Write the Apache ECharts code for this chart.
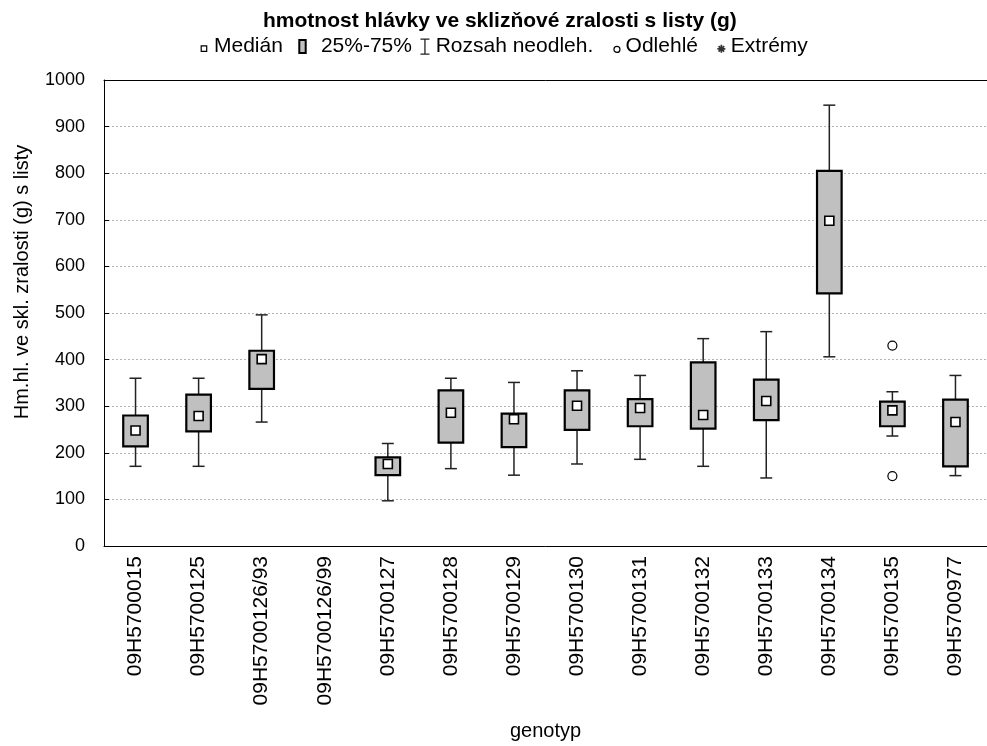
<!DOCTYPE html>
<html>
<head>
<meta charset="utf-8">
<script src="https://cdn.jsdelivr.net/npm/echarts@6/dist/echarts.min.js"></script>
<style>
  html, body { margin: 0; padding: 0; background: #fff; }
  #chart { width: 987px; height: 746px; }
</style>
</head>
<body>
<div id="chart"></div>
<script>
// Genotypes on the category axis
const genotypes = ['09H5700015', '09H5700125', '09H5700126/93', '09H5700126/99', '09H5700127',
  '09H5700128', '09H5700129', '09H5700130', '09H5700131', '09H5700132', '09H5700133',
  '09H5700134', '09H5700135', '09H5700977'];

// Head weight at harvest maturity with leaves (g); null = genotype without data
const rangeLow  = [171, 171, 266, null,  97, 166, 152, 176, 186, 171, 146, 406, 236, 151];
const q1        = [214, 246, 337, null, 152, 222, 212, 249, 257, 252, 270, 542, 257, 171];
const median    = [248, 279, 401, null, 176, 286, 272, 301, 296, 281, 311, 698, 291, 266];
const q3        = [280, 325, 419, null, 190, 334, 284, 334, 315, 394, 357, 805, 310, 314];
const rangeHigh = [360, 360, 496, null, 220, 360, 351, 376, 366, 445, 460, 946, 331, 366];

// Outliers: [genotype, value]
const outlierGenotype = ['09H5700135', '09H5700135'];
const outlierValue    = [430, 150];

const yTicks = { min: 0, max: 1000, step: 100 };

const FONT = 'Liberation Sans, Arial, Helvetica, sans-serif';

const boxData = [];
genotypes.forEach((g, i) => {
  if (median[i] == null) return;
  boxData.push([i, rangeLow[i], q1[i], median[i], q3[i], rangeHigh[i]]);
});
const outlierData = outlierGenotype.map((g, i) => [g, outlierValue[i]]);

// Legend icons: zero-length corner segments pin each path to its own w x h frame,
// so the shape keeps its size and place inside the legend item
function frame(w, h) {
  return 'M0,0L0,0M' + w + ',' + h + 'L' + w + ',' + h;
}
const ICON_H = 24;
const iconMedian  = 'path://' + frame(8.4, ICON_H) + 'M0.6,11.8L6.1,11.8L6.1,17.3L0.6,17.3Z';
const iconBox     = 'path://' + frame(17.6, ICON_H) + 'M1,5.5L7.4,5.5L7.4,18.5L1,18.5Z';
const iconRange   = 'path://' + frame(10.7, ICON_H) + 'M0.5,5L9.5,5M5,5L5,20M0.5,20L9.5,20';
const iconOutlier = 'path://' + frame(7.3, ICON_H) + 'M6.65,15.3A3,3,0,1,1,0.65,15.3A3,3,0,1,1,6.65,15.3Z';
const iconExtreme = 'path://' + frame(9, ICON_H) + 'M4.5,10.5L4.5,18.5M0.5,14.5L8.5,14.5M1.7,11.7L7.3,17.3M1.7,17.3L7.3,11.7';
const symExtreme  = 'path://M4.5,0.5L4.5,8.5M0.5,4.5L8.5,4.5M1.7,1.7L7.3,7.3M1.7,7.3L7.3,1.7';

function whiskers(params, api) {
  const i = api.value(0);
  const lo = api.coord([i, api.value(1)]);
  const a = api.coord([i, api.value(2)]);
  const b = api.coord([i, api.value(4)]);
  const hi = api.coord([i, api.value(5)]);
  const x = a[0];
  const cap = api.size([1, 0])[0] * 0.19;
  const st = { stroke: '#222', lineWidth: 1.5 };
  return {
    type: 'group',
    children: [
      { type: 'line', shape: { x1: x, y1: hi[1], x2: x, y2: b[1] }, style: st },
      { type: 'line', shape: { x1: x, y1: lo[1], x2: x, y2: a[1] }, style: st },
      { type: 'line', shape: { x1: x - cap / 2, y1: hi[1], x2: x + cap / 2, y2: hi[1] }, style: st },
      { type: 'line', shape: { x1: x - cap / 2, y1: lo[1], x2: x + cap / 2, y2: lo[1] }, style: st }
    ]
  };
}

function boxes(params, api) {
  const i = api.value(0);
  const a = api.coord([i, api.value(2)]);
  const b = api.coord([i, api.value(4)]);
  const w = api.size([1, 0])[0] * 0.39;
  return {
    type: 'rect',
    shape: { x: a[0] - w / 2, y: b[1], width: w, height: a[1] - b[1] },
    style: { fill: '#c0c0c0', stroke: '#000', lineWidth: 2.2 }
  };
}

function medians(params, api) {
  const i = api.value(0);
  const m = api.coord([i, api.value(3)]);
  const s = 9;
  return {
    type: 'rect',
    shape: { x: m[0] - s / 2, y: m[1] - s / 2, width: s, height: s },
    style: { fill: '#fff', stroke: '#000', lineWidth: 1.6 }
  };
}

const chart = echarts.init(document.getElementById('chart'), null, { renderer: 'canvas' });

const axisLineStyle = { color: '#000', width: 1 };
const legendText = { fontFamily: FONT, fontSize: 21, color: '#000' };
const CLEAR = 'rgba(255,255,255,0)';

function legendEntry(left, width, name, icon, itemStyle) {
  return {
    left: left,
    top: 33.5,
    padding: 0,
    selectedMode: false,
    itemWidth: width,
    itemHeight: ICON_H,
    textStyle: legendText,
    data: [{ name: name, icon: icon, itemStyle: itemStyle }]
  };
}

chart.setOption({
  animation: false,
  backgroundColor: '#fff',
  textStyle: { fontFamily: FONT },
  title: {
    text: 'hmotnost hlávky ve sklizňové zralosti s listy (g)',
    left: 263,
    top: 11,
    padding: 0,
    textStyle: { fontFamily: FONT, fontSize: 21, fontWeight: 'bold', color: '#000' }
  },
  legend: [
    legendEntry(200, 8.4, 'Medián', iconMedian, { color: '#fff', borderColor: '#000', borderWidth: 1.2 }),
    legendEntry(297.3, 17.6, '25%-75%', iconBox, { color: '#c0c0c0', borderColor: '#000', borderWidth: 2 }),
    legendEntry(419.3, 10.7, 'Rozsah neodleh.', iconRange, { color: CLEAR, borderColor: '#222', borderWidth: 1.3 }),
    legendEntry(612.7, 7.3, 'Odlehlé', iconOutlier, { color: '#fff', borderColor: '#000', borderWidth: 1.2 }),
    legendEntry(716, 9, 'Extrémy', iconExtreme, { color: CLEAR, borderColor: '#000', borderWidth: 1.7 })
  ],
  grid: { left: 104, top: 80, width: 890, height: 466.5, containLabel: false },
  xAxis: [
    {
      type: 'category',
      data: genotypes,
      position: 'bottom',
      boundaryGap: true,
      axisLine: { lineStyle: axisLineStyle },
      axisTick: { inside: true, alignWithLabel: true, length: 5, lineStyle: axisLineStyle },
      axisLabel: { rotate: 90, fontSize: 21, color: '#000', margin: 10, fontFamily: FONT, interval: 0 },
      splitLine: { show: false },
      name: 'genotyp',
      nameLocation: 'middle',
      nameGap: 175,
      nameTextStyle: { fontSize: 20, color: '#000', fontFamily: FONT }
    },
    {
      type: 'category',
      data: genotypes,
      position: 'top',
      boundaryGap: true,
      axisLine: { lineStyle: axisLineStyle },
      axisTick: { inside: true, alignWithLabel: true, length: 5, lineStyle: axisLineStyle },
      axisLabel: { show: false },
      splitLine: { show: false }
    }
  ],
  yAxis: {
    type: 'value',
    min: yTicks.min,
    max: yTicks.max,
    interval: yTicks.step,
    axisLine: { show: true, lineStyle: axisLineStyle },
    axisTick: { show: true, inside: true, length: 5, lineStyle: axisLineStyle },
    axisLabel: { fontSize: 18, color: '#000', margin: 19, fontFamily: FONT, formatter: v => String(v) },
    splitLine: { show: true, lineStyle: { color: '#b4b4b4', type: [2, 2], width: 1 } }
  },
  graphic: [
    {
      type: 'text',
      x: 22,
      y: 282,
      rotation: Math.PI / 2,
      style: {
        text: 'Hm.hl. ve skl. zralosti (g) s listy',
        font: '20px ' + FONT,
        fill: '#000',
        align: 'center',
        verticalAlign: 'middle'
      }
    }
  ],
  series: [
    {
      name: 'Rozsah neodleh.',
      type: 'custom',
      xAxisIndex: 0,
      renderItem: whiskers,
      encode: { x: 0, y: [1, 2, 4, 5] },
      data: boxData,
      z: 2
    },
    {
      name: '25%-75%',
      type: 'custom',
      xAxisIndex: 0,
      renderItem: boxes,
      encode: { x: 0, y: [2, 4] },
      data: boxData,
      z: 3
    },
    {
      name: 'Medián',
      type: 'custom',
      xAxisIndex: 0,
      renderItem: medians,
      encode: { x: 0, y: 3 },
      data: boxData,
      z: 4
    },
    {
      name: 'Odlehlé',
      type: 'scatter',
      xAxisIndex: 0,
      symbol: 'circle',
      symbolSize: 9,
      itemStyle: { color: '#fff', borderColor: '#000', borderWidth: 1.2, opacity: 1 },
      data: outlierData,
      z: 5
    },
    {
      name: 'Extrémy',
      type: 'scatter',
      xAxisIndex: 0,
      symbol: symExtreme,
      symbolSize: 9,
      itemStyle: { color: CLEAR, borderColor: '#000', borderWidth: 1.7 },
      data: [],
      z: 5
    }
  ]
});
</script>
</body>
</html>
